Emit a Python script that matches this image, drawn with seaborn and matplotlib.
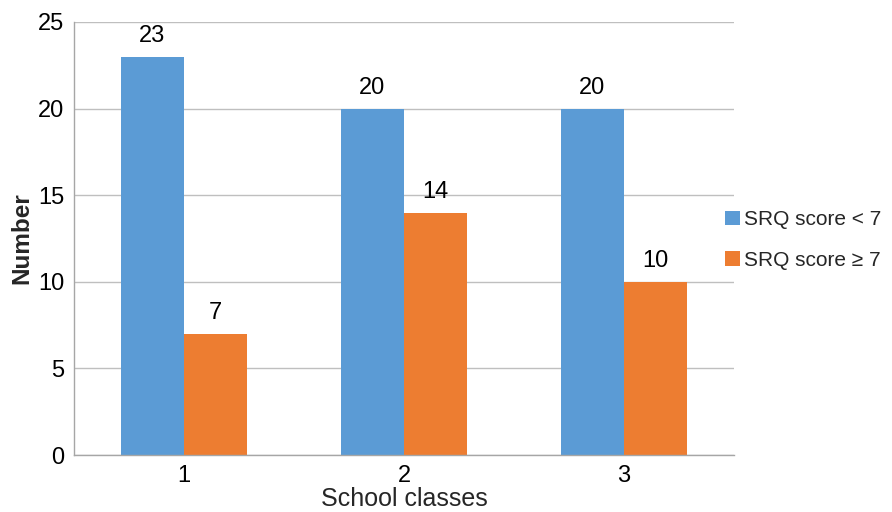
import matplotlib
matplotlib.use("Agg")
import matplotlib.pyplot as plt
import seaborn as sns
import pandas as pd

classes = ["1", "2", "3"]
series_names = ["SRQ score < 7", "SRQ score \u2265 7"]
low_scores = [23, 20, 20]
high_scores = [7, 14, 10]
y_ticks = [0, 5, 10, 15, 20, 25]
colors = ["#5B9BD5", "#ED7D31"]

df = pd.DataFrame({
    "School classes": classes * 2,
    "Number": low_scores + high_scores,
    "Group": [series_names[0]] * 3 + [series_names[1]] * 3,
})

sns.set_style("white")
plt.rcParams["font.family"] = ["Liberation Sans", "DejaVu Sans"]

fig = plt.figure(figsize=(8.92, 5.12), dpi=100)
ax = fig.add_axes([74 / 892, 57 / 512, (734 - 74) / 892, (455 - 22) / 512])

sns.barplot(data=df, x="School classes", y="Number", hue="Group",
            palette=colors, width=0.574, gap=0, ax=ax, saturation=1,
            linewidth=0, legend=True)

for cont in ax.containers:
    ax.bar_label(cont, fmt="%d", padding=7, fontsize=17, color="black")

ax.set_ylim(0, 25)
ax.set_xlim(-0.5, 2.5)
ax.set_yticks(y_ticks)
ax.yaxis.grid(True, color="#BFBFBF", linewidth=1)
ax.set_axisbelow(True)
for s in ["top", "right"]:
    ax.spines[s].set_visible(False)
for s in ["left", "bottom"]:
    ax.spines[s].set_color("#A6A6A6")
    ax.spines[s].set_linewidth(1)
ax.tick_params(axis="both", length=0, labelsize=17, colors="black")
ax.tick_params(axis="x", pad=7)
ax.tick_params(axis="y", pad=7)
ax.set_xlabel("School classes", fontsize=18, labelpad=0)
ax.set_ylabel("Number", fontsize=17.5, fontweight="bold", labelpad=3)

handles, labels = ax.get_legend_handles_labels()
ax.legend(handles, labels, loc="center left",
          bbox_to_anchor=(717 / 892, 1 - 240 / 512),
          bbox_transform=fig.transFigure, frameon=False, fontsize=15,
          handlelength=0.68, handleheight=0.68, handletextpad=0.2,
          labelspacing=1.05, borderaxespad=0)

fig.savefig("out.png", dpi=100)
